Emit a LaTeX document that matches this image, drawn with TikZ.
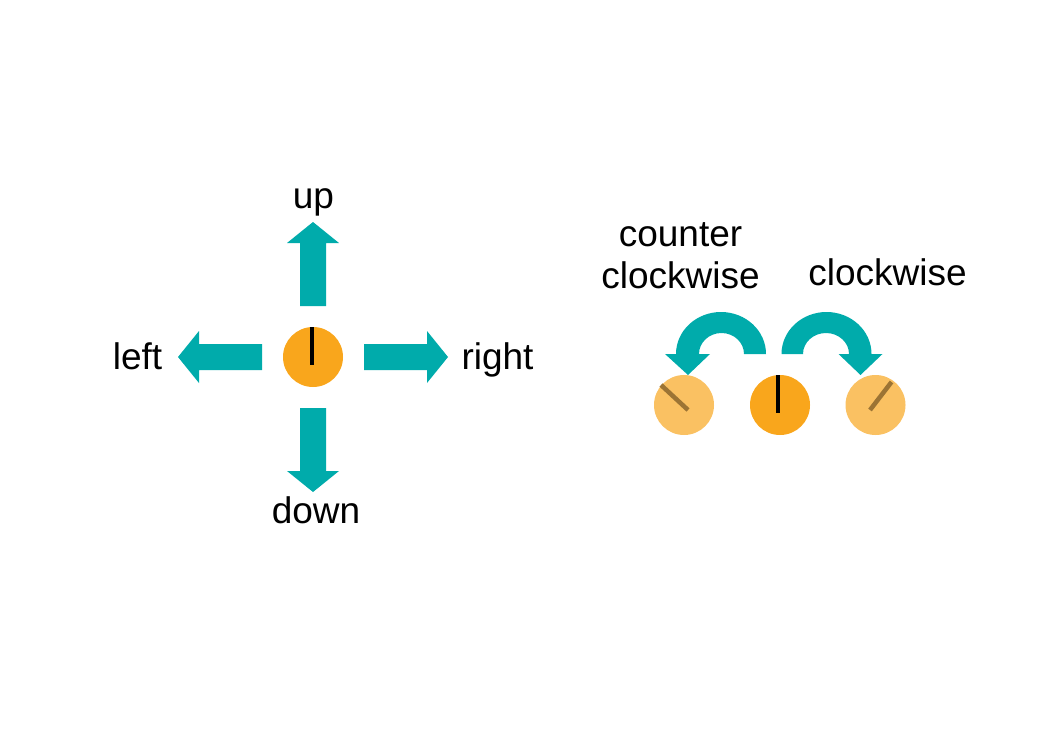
\documentclass[tikz,border=0pt]{standalone}
\usepackage{fontspec}
\setmainfont{Liberation Sans}
\definecolor{tealA}{HTML}{00ABAB}
\definecolor{orangeA}{HTML}{F9A61C}
\definecolor{orangeL}{HTML}{FAC162}
\definecolor{needleL}{HTML}{9C7434}
\begin{document}
\begin{tikzpicture}[x=1pt,y=-1pt,
  knob/.style={circle, fill=orangeA, minimum size=60pt, inner sep=0pt},
  ghost/.style={circle, fill=orangeL, minimum size=60pt, inner sep=0pt},
  needle/.style={line width=4pt, black},
  ghostneedle/.style={line width=4.5pt, needleL},
  lbl/.style={font=\fontsize{37}{42}\selectfont, inner sep=0pt, anchor=base, align=center},
  arr/.style={fill=tealA}]
\useasboundingbox (0,0) rectangle (1040,739);
% left group
\node[knob] (c1) at (313,357) {};
\draw[needle] (311.5,327) -- (311.5,365);
\foreach \a in {0,90,180,270}
  \fill[arr, shift={(313,357)}, rotate=\a] (51,-13) -- (114,-13) -- (114,-26) -- (135,0) -- (114,26) -- (114,13) -- (51,13) -- cycle;
\node[lbl] (up) at (313.5,208) {up};
\node[lbl] (left) at (137.5,369) {left};
\node[lbl] (right) at (497.5,369) {right};
\node[lbl] (down) at (316,523) {down};
% right group
\node[ghost] (g1) at (684,405) {};
\node[knob] (c2) at (780,405) {};
\node[ghost] (g2) at (875.5,405) {};
\draw[ghostneedle] (688,410) -- (661,385);
\draw[ghostneedle] (870,410) -- (891.5,382);
\draw[needle] (778.3,375) -- (778.3,412.7);
\fill[arr] (766,354) arc[start angle=0, end angle=-180, x radius=45, y radius=42]
  -- (665,354) -- (688,375) -- (710,354) -- (699,354)
  arc[start angle=-180, end angle=0, x radius=22.5, y radius=21] -- cycle;
\fill[arr] (781.5,354) arc[start angle=180, end angle=360, x radius=45, y radius=42]
  -- (882.5,354) -- (860.5,375) -- (838.5,354) -- (849,354)
  arc[start angle=0, end angle=-180, x radius=23, y radius=21] -- cycle;
\node[lbl] (ccw) at (680.5,288.5) {counter\\clockwise};
\node[lbl] (cw) at (887.5,285.5) {clockwise};
\end{tikzpicture}
\end{document}
